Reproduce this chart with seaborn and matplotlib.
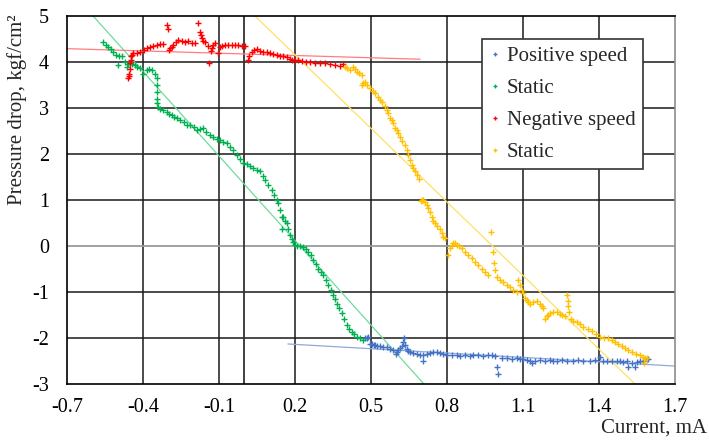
import numpy as np
import pandas as pd
import matplotlib
matplotlib.use("Agg")
import matplotlib.pyplot as plt
from matplotlib.lines import Line2D
import seaborn as sns

# ---------------- data ----------------
pos_speed = [(0.476,-2.01),(0.483,-2.00),(0.489,-1.97),(0.496,-2.12),(0.503,-2.14),(0.510,-2.15),(0.516,-2.16),
    (0.523,-2.17),(0.536,-2.17),(0.549,-2.19),(0.562,-2.20),(0.575,-2.23),(0.588,-2.25),(0.599,-2.35),(0.601,-2.30),
    (0.608,-2.26),(0.615,-2.22),(0.621,-2.17),(0.627,-2.08),(0.630,-1.99),(0.634,-2.15),(0.641,-2.24),(0.647,-2.28),
    (0.654,-2.30),(0.667,-2.33),(0.680,-2.35),(0.693,-2.36),(0.707,-2.37),(0.707,-2.51),(0.720,-2.35),(0.733,-2.33),
    (0.746,-2.31),(0.759,-2.30),(0.772,-2.33),(0.786,-2.35),(0.799,-2.37),(0.818,-2.38),(0.838,-2.37),(0.851,-2.39),
    (0.871,-2.38),(0.890,-2.40),(0.904,-2.36),(0.923,-2.38),(0.943,-2.39),(0.963,-2.38),(0.977,-2.37),(0.990,-2.40),
    (0.996,-2.62),(1.003,-2.78),(1.016,-2.43),(1.036,-2.44),(1.055,-2.45),(1.075,-2.44),(1.088,-2.45),(1.101,-2.46),
    (1.114,-2.47),(1.128,-2.50),(1.134,-2.55),(1.147,-2.50),(1.167,-2.48),(1.187,-2.49),(1.207,-2.48),(1.220,-2.50),
    (1.233,-2.49),(1.253,-2.48),(1.273,-2.49),(1.299,-2.49),(1.319,-2.48),(1.338,-2.50),(1.365,-2.49),(1.384,-2.48),
    (1.404,-2.42),(1.417,-2.49),(1.430,-2.51),(1.450,-2.50),(1.470,-2.51),(1.483,-2.51),(1.496,-2.52),(1.509,-2.50),
    (1.516,-2.62),(1.529,-2.55),(1.542,-2.62),(1.550,-2.52),(1.562,-2.51),(1.575,-2.50),(1.588,-2.46),(1.595,-2.46)]

static_1 = [(-0.559,4.43),(-0.548,4.38),(-0.537,4.33),(-0.527,4.28),(-0.517,4.22),(-0.507,4.15),(-0.497,3.93),
    (-0.495,4.14),(-0.484,4.13),(-0.471,4.01),(-0.464,3.90),(-0.458,3.95),(-0.451,3.97),(-0.442,3.95),(-0.432,3.93),
    (-0.422,3.90),(-0.412,3.86),(-0.399,3.75),(-0.385,3.83),(-0.375,3.84),(-0.366,3.83),(-0.353,3.75),(-0.345,3.65),
    (-0.343,3.50),(-0.343,3.35),(-0.344,3.20),(-0.346,3.10),(-0.342,3.03),(-0.333,2.98),(-0.320,2.96),(-0.306,2.92),
    (-0.297,2.88),(-0.287,2.85),(-0.277,2.81),(-0.267,2.78),(-0.254,2.74),(-0.240,2.69),(-0.227,2.63),(-0.214,2.63),
    (-0.200,2.58),(-0.188,2.52),(-0.175,2.54),(-0.162,2.56),(-0.150,2.48),(-0.136,2.41),(-0.122,2.37),(-0.109,2.32),
    (-0.096,2.30),(-0.083,2.27),(-0.070,2.24),(-0.057,2.16),(-0.043,2.08),(-0.030,1.98),(-0.017,1.90),(-0.004,1.80),
    (0.009,1.78),(0.022,1.73),(0.035,1.69),(0.049,1.66),(0.062,1.62),(0.072,1.52),(0.082,1.43),(0.095,1.32),
    (0.108,1.22),(0.118,1.10),(0.128,1.00),(0.134,0.93),(0.141,0.78),(0.147,0.64),(0.154,0.64),(0.150,0.38),
    (0.161,0.55),(0.167,0.49),(0.174,0.38),(0.180,0.24),(0.187,0.16),(0.193,0.09),(0.200,0.03),(0.207,0.00),
    (0.220,-0.01),(0.233,-0.03),(0.243,-0.07),(0.253,-0.12),(0.262,-0.20),(0.272,-0.30),(0.282,-0.40),(0.292,-0.49),
    (0.302,-0.56),(0.312,-0.63),(0.322,-0.74),(0.332,-0.85),(0.341,-0.96),(0.351,-1.07),(0.359,-1.16),(0.367,-1.25),
    (0.375,-1.35),(0.384,-1.46),(0.394,-1.59),(0.404,-1.72),(0.414,-1.80),(0.424,-1.86),(0.434,-1.92),(0.444,-1.97),
    (0.457,-2.01),(0.470,-2.04)]

neg_speed = [(-0.458,3.65),(-0.456,3.70),(-0.454,3.75),(-0.452,3.85),(-0.451,3.97),(-0.449,4.05),(-0.449,4.12),
    (-0.444,4.15),(-0.438,4.19),(-0.425,4.20),(-0.412,4.22),(-0.398,4.26),(-0.385,4.30),(-0.372,4.33),(-0.359,4.35),
    (-0.346,4.37),(-0.333,4.39),(-0.320,4.40),(-0.306,4.80),(-0.300,4.71),(-0.298,4.27),(-0.293,4.30),(-0.287,4.33),
    (-0.280,4.37),(-0.270,4.43),(-0.261,4.48),(-0.247,4.45),(-0.234,4.44),(-0.221,4.46),(-0.208,4.42),(-0.195,4.41),
    (-0.182,4.85),(-0.176,4.66),(-0.172,4.58),(-0.168,4.52),(-0.162,4.46),(-0.155,4.44),(-0.145,4.35),(-0.138,3.97),
    (-0.133,4.25),(-0.129,4.30),(-0.122,4.37),(-0.116,4.41),(-0.103,4.19),(-0.096,4.32),(-0.089,4.35),(-0.076,4.38),
    (-0.063,4.36),(-0.050,4.37),(-0.037,4.36),(-0.024,4.37),(-0.011,4.35),(0.003,4.35),(0.016,4.04),(0.020,4.14),
    (0.029,4.22),(0.040,4.26),(0.049,4.28),(0.062,4.25),(0.075,4.22),(0.088,4.21),(0.101,4.19),(0.115,4.17),
    (0.128,4.15),(0.141,4.13),(0.154,4.12),(0.167,4.10),(0.180,4.07),(0.190,4.05),(0.200,4.04),(0.213,4.04),
    (0.226,4.03),(0.242,4.01),(0.259,3.99),(0.279,3.98),(0.299,3.97),(0.319,3.97),(0.338,3.96),(0.358,3.94),
    (0.378,3.91),(0.391,3.96)]

static_2 = [(0.397,3.90),(0.407,3.86),(0.417,3.83),(0.430,3.90),(0.437,3.85),(0.444,3.79),(0.453,3.76),(0.463,3.72),
    (0.463,3.50),(0.470,3.54),(0.476,3.57),(0.486,3.50),(0.496,3.43),(0.506,3.38),(0.516,3.32),(0.526,3.25),
    (0.536,3.17),(0.545,3.12),(0.555,3.05),(0.562,2.96),(0.568,2.90),(0.575,2.78),(0.582,2.74),(0.588,2.67),
    (0.595,2.56),(0.601,2.52),(0.608,2.45),(0.615,2.38),(0.624,2.29),(0.634,2.20),(0.641,2.09),(0.647,1.98),
    (0.654,1.87),(0.661,1.76),(0.667,1.69),(0.674,1.62),(0.682,1.54),(0.691,1.45),
    (0.698,0.98),(0.700,1.00),(0.706,1.01),(0.713,0.96),(0.720,0.89),(0.726,0.82),(0.733,0.73),(0.740,0.64),
    (0.746,0.55),(0.753,0.49),(0.762,0.43),(0.772,0.38),(0.779,0.29),(0.786,0.20),(0.792,0.18),(0.805,-0.20),
    (0.810,-0.05),(0.818,0.02),(0.825,0.06),(0.832,0.06),(0.840,0.03),(0.848,-0.01),(0.858,-0.05),(0.871,-0.12),
    (0.884,-0.20),(0.897,-0.27),(0.910,-0.34),(0.923,-0.42),(0.937,-0.49),(0.950,-0.56),(0.963,-0.63),(0.972,0.30),
    (0.980,-0.12),(0.986,-0.38),(0.990,-0.52),(0.996,-0.67),(1.009,-0.73),(1.022,-0.79),(1.035,-0.84),(1.049,-0.90),
    (1.062,-0.95),(1.075,-1.00),(1.082,-0.74),(1.088,-0.85),(1.095,-0.95),(1.101,-1.03),(1.108,-1.12),(1.114,-1.17),
    (1.121,-1.22),(1.128,-1.25),(1.141,-1.22),(1.154,-1.19),(1.167,-1.26),(1.174,-1.31),(1.180,-1.35),(1.187,-1.58),
    (1.194,-1.53),(1.200,-1.49),(1.207,-1.46),(1.220,-1.44),(1.233,-1.43),(1.246,-1.47),(1.253,-1.50),(1.266,-1.52),
    (1.273,-1.07),(1.276,-1.20),(1.279,-1.30),(1.282,-1.44),(1.290,-1.58),(1.299,-1.62),(1.312,-1.66),(1.325,-1.70),
    (1.338,-1.75),(1.355,-1.80),(1.371,-1.85),(1.387,-1.91),(1.404,-1.97),(1.420,-1.99),(1.437,-2.01),(1.450,-2.05),
    (1.463,-2.09),(1.476,-2.13),(1.489,-2.17),(1.502,-2.21),(1.516,-2.25),(1.529,-2.30),(1.545,-2.34),(1.562,-2.38),
    (1.572,-2.42),(1.578,-2.55),(1.582,-2.44),(1.588,-2.44)]

# linear trend lines (endpoints)
trend_pos_x, trend_pos_y = [0.172, 1.70], [-2.13, -2.61]
trend_st1_x, trend_st1_y = [-0.597, 0.709], [5.0, -3.0]
trend_neg_x, trend_neg_y = [-0.70, 0.694], [4.29, 4.06]
trend_st2_x, trend_st2_y = [0.042, 1.542], [5.0, -3.0]

series_names = ["Positive speed", "Static", "Negative speed", "Static"]
series_colors = ["#4472C4", "#00B050", "#FF0000", "#FFC000"]
trend_colors = ["#8FAADC", "#6FDC9C", "#FF7C80", "#FFE066"]

x_ticks = [-0.7, -0.4, -0.1, 0.2, 0.5, 0.8, 1.1, 1.4, 1.7]
x_tick_labels = ["-0.7", "-0.4", "-0.1", "0.2", "0.5", "0.8", "1.1", "1.4", "1.7"]
y_ticks = [-3, -2, -1, 0, 1, 2, 3, 4, 5]
y_tick_labels = ["-3", "-2", "-1", "0", "1", "2", "3", "4", "5"]

# ---------------- plotting ----------------
sns.set_theme(style="white")
plt.rcParams["font.family"] = ["Liberation Serif", "DejaVu Serif"]

fig = plt.figure(figsize=(7.09, 4.42), dpi=100)
ax = fig.add_axes([67/709, 1-384/442, 608/709, 368/442])

ax.set_xlim(-0.7, 1.7)
ax.set_ylim(-3, 5)

grid_c = "#1a1a1a"
for xv in x_ticks[1:-1]:
    ax.axvline(xv, color=grid_c, lw=1.1, zorder=1)
for yv in y_ticks[1:-1]:
    if yv == 0:
        continue
    ax.axhline(yv, color=grid_c, lw=1.1, zorder=1)
ax.axhline(0, color="#9a9a9a", lw=1.3, zorder=1)
ax.axvline(0, color="#333333", lw=1.3, zorder=1)

all_series = [pos_speed, static_1, neg_speed, static_2]
trends = [(trend_pos_x, trend_pos_y), (trend_st1_x, trend_st1_y),
          (trend_neg_x, trend_neg_y), (trend_st2_x, trend_st2_y)]

for pts, name, col in zip(all_series, series_names, series_colors):
    df = pd.DataFrame(pts, columns=["x", "y"])
    sns.scatterplot(data=df, x="x", y="y", marker="+", color=col, s=14,
                    linewidth=1.0, ax=ax, zorder=3, legend=False)

for (tx, ty), col in zip(trends, trend_colors):
    sns.lineplot(x=tx, y=ty, color=col, lw=0.9, ax=ax, zorder=2,
                 legend=False, estimator=None, sort=False)

ax.set_xticks(x_ticks)
ax.set_xticklabels(x_tick_labels)
ax.set_yticks(y_ticks)
ax.set_yticklabels(y_tick_labels)
ax.tick_params(axis="both", length=0, labelsize=14.5, colors="black")
ax.tick_params(axis="x", pad=10)
ax.tick_params(axis="y", pad=13)

for s in ["left", "bottom", "top"]:
    ax.spines[s].set_color("black")
    ax.spines[s].set_linewidth(1.2)
ax.spines["right"].set_color("#8c8c8c")
ax.spines["right"].set_linewidth(1.2)

ax.set_xlabel("")
ax.set_ylabel("")
fig.text(0.024, 0.752, "Pressure drop, kgf/cm²", rotation=90, ha="center",
         va="center", fontsize=15)
fig.text(0.997, 0.01, "Current, mA", ha="right", va="bottom", fontsize=15)

handles = [Line2D([], [], marker="+", color=c, linestyle="none", markersize=3.5,
                  markeredgewidth=1.0) for c in series_colors]
leg = ax.legend(handles, series_names, loc="upper left",
                bbox_to_anchor=(0.6826, 0.9375), fontsize=15, frameon=True,
                fancybox=False, framealpha=1, edgecolor="#333333",
                handlelength=0.5, handletextpad=0.35, labelspacing=0.6,
                borderpad=0.35, borderaxespad=0)
leg.get_frame().set_linewidth(1.2)
leg.set_zorder(5)

fig.savefig("out.png", dpi=100)
